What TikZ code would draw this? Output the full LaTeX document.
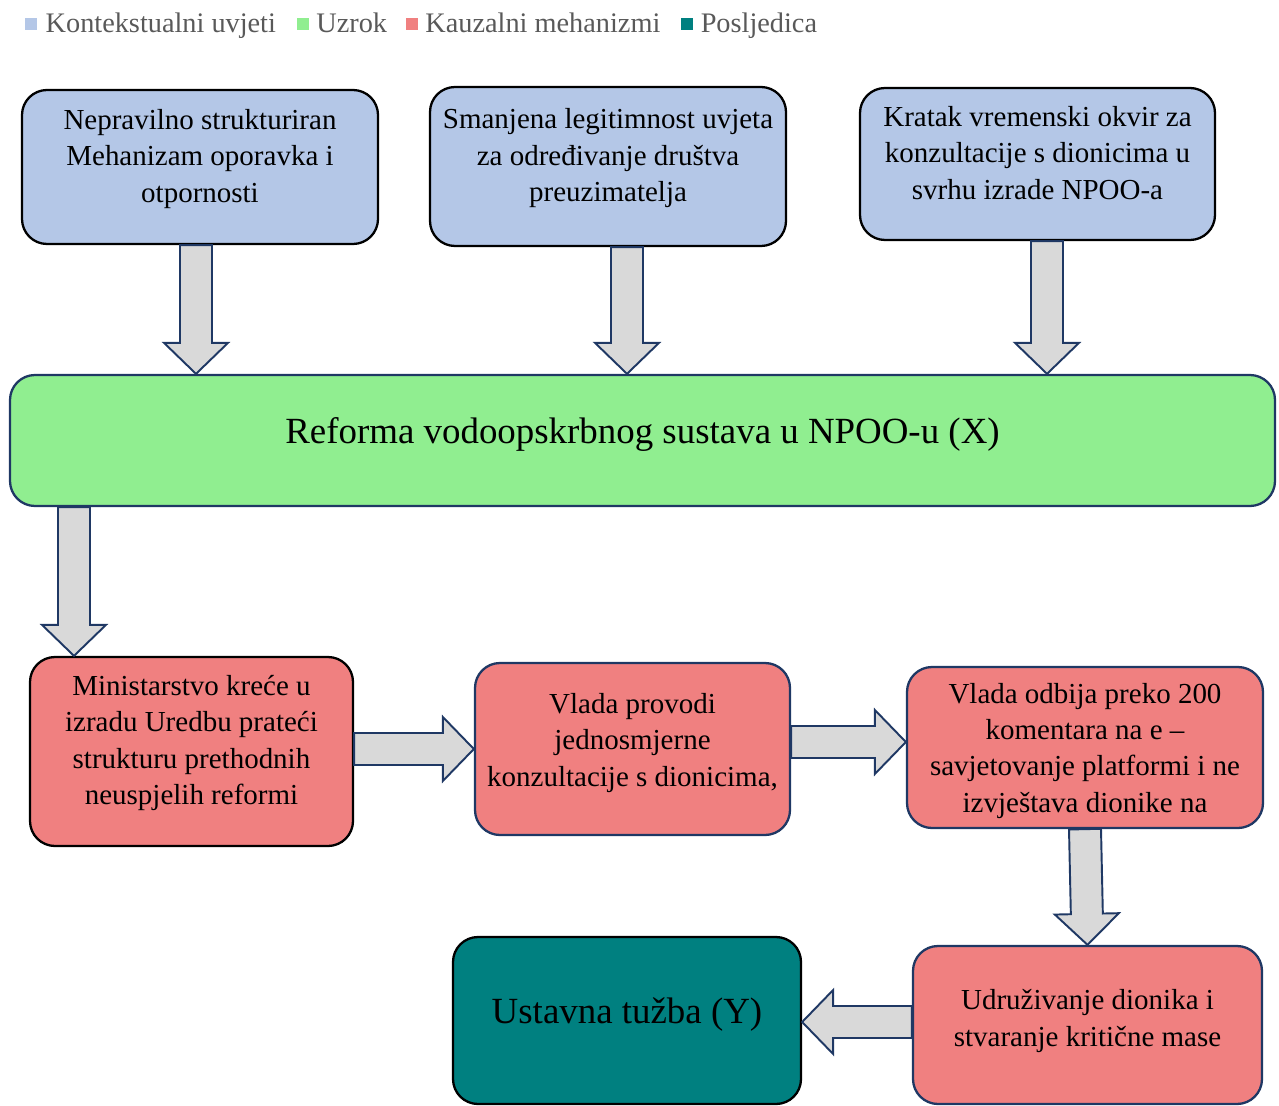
\documentclass[tikz,border=0pt]{standalone}
\usepackage{fontspec}
\setmainfont{Liberation Serif}
\usepackage{xcolor}
\usepackage{tikz}
\usetikzlibrary{positioning,calc}
\definecolor{contextbg}{RGB}{180,199,231}
\definecolor{causebg}{RGB}{144,238,144}
\definecolor{mechbg}{RGB}{240,128,128}
\definecolor{outcomebg}{RGB}{0,128,128}
\definecolor{arrowbg}{RGB}{217,217,217}
\definecolor{navyline}{RGB}{31,56,100}
\definecolor{legendtext}{RGB}{89,89,89}

% block arrow from #1 (tail) to #2 (tip)
\newcommand{\blockarrow}[2]{%
  \coordinate (ah) at ($(#2)!0.62cm!(#1)$);
  \draw[fatarrow] ($(#1)!0.32cm!90:(#2)$) -- ($(ah)!0.32cm!90:(#2)$)
    -- ($(ah)!0.64cm!90:(#2)$) -- (#2) -- ($(ah)!0.64cm!-90:(#2)$)
    -- ($(ah)!0.32cm!-90:(#2)$) -- ($(#1)!0.32cm!-90:(#2)$) -- cycle;
}

\begin{document}
\begin{tikzpicture}[
    box/.style={rectangle, rounded corners=0.5cm, line width=1.3pt, align=center,
      inner sep=0pt, font=\fontsize{16.5}{20.7}\selectfont},
    ctxbox/.style={box, fill=contextbg, draw=black},
    causebox/.style={box, fill=causebg, draw=navyline, font=\fontsize{21}{25}\selectfont},
    mechbox/.style={box, fill=mechbg, draw=navyline},
    outbox/.style={box, fill=outcomebg, draw=black, font=\fontsize{21}{25}\selectfont},
    fatarrow/.style={fill=arrowbg, draw=navyline, line width=1.1pt, line join=miter},
    legsq/.style={rectangle, minimum size=0.24cm, inner sep=0pt},
    legtxt/.style={text=legendtext, inner sep=0pt, text height=0.40cm, text depth=0.06cm,
      font=\fontsize{16.1}{18}\selectfont}
  ]
    \useasboundingbox (0,0) rectangle (25.58,-22.12);

    % Legend
    \node[legsq, fill=contextbg] (sqctx) at (0.62,-0.48) {};
    \node[legtxt, right=0.16cm of sqctx] (lgctx) {Kontekstualni uvjeti};
    \node[legsq, fill=causebg, right=0.4cm of lgctx] (sqcause) {};
    \node[legtxt, right=0.14cm of sqcause] (lgcause) {Uzrok};
    \node[legsq, fill=mechbg, right=0.36cm of lgcause] (sqmech) {};
    \node[legtxt, right=0.14cm of sqmech] (lgmech) {Kauzalni mehanizmi};
    \node[legsq, fill=outcomebg, right=0.4cm of lgmech] (sqout) {};
    \node[legtxt, right=0.14cm of sqout] (lgout) {Posljedica};

    % Contextual conditions
    \node[ctxbox, minimum width=7.12cm, minimum height=3.08cm, text depth=0.45cm] (b1) at (4.00,-3.34)
      {Nepravilno strukturiran\\Mehanizam oporavka i\\otpornosti};
    \node[ctxbox, minimum width=7.12cm, minimum height=3.18cm, text depth=0.45cm] (b2) at (12.16,-3.33)
      {Smanjena legitimnost uvjeta\\za određivanje društva\\preuzimatelja};
    \node[ctxbox, minimum width=7.10cm, minimum height=3.04cm, text depth=0.45cm] (b3) at (20.75,-3.28)
      {Kratak vremenski okvir za\\konzultacije s dionicima u\\svrhu izrade NPOO-a};

    % Cause
    \node[causebox, minimum width=25.30cm, minimum height=2.62cm, text depth=0.40cm] (reform) at (12.85,-8.81)
      {Reforma vodoopskrbnog sustava u NPOO-u (X)};

    % Causal mechanisms
    \node[mechbox, draw=black, minimum width=6.46cm, minimum height=3.78cm, text depth=0.46cm] (r1) at (3.83,-15.03)
      {Ministarstvo kreće u\\izradu Uredbu prateći\\strukturu prethodnih\\neuspjelih reformi};
    \node[mechbox, minimum width=6.30cm, minimum height=3.44cm, text depth=0.37cm] (r2) at (12.65,-14.98)
      {Vlada provodi\\jednosmjerne\\konzultacije s dionicima,};
    \node[mechbox, minimum width=7.12cm, minimum height=3.22cm, text depth=0cm] (r3) at (21.70,-14.95)
      {Vlada odbija preko 200\\komentara na e --\\savjetovanje platformi i ne\\izvještava dionike na};
    \node[mechbox, minimum width=6.98cm, minimum height=3.16cm, text depth=0.29cm] (r4) at (21.75,-20.50)
      {Udruživanje dionika i\\stvaranje kritične mase};

    % Outcome
    \node[outbox, minimum width=6.96cm, minimum height=3.34cm, text depth=0.40cm] (y) at (12.54,-20.41)
      {Ustavna tužba (Y)};

    % Arrows
    \coordinate (a1s) at ($(b1.south)+(-0.08,0)$);
    \coordinate (a1e) at (a1s |- reform.north);
    \coordinate (a2s) at ($(b2.south)+(0.38,0)$);
    \coordinate (a2e) at (a2s |- reform.north);
    \coordinate (a3s) at ($(b3.south)+(0.19,0)$);
    \coordinate (a3e) at (a3s |- reform.north);
    \coordinate (a4s) at (1.48,0 |- reform.south);
    \coordinate (a4e) at (a4s |- r1.north);
    \coordinate (a5s) at ($(r1.east)+(0,0.05)$);
    \coordinate (a5e) at (a5s -| r2.west);
    \coordinate (a6s) at ($(r2.east)+(0,0.14)$);
    \coordinate (a6e) at (a6s -| r3.west);
    \coordinate (a8s) at ($(r4.west)+(0,0.06)$);
    \coordinate (a8e) at (a8s -| y.east);

    \blockarrow{a1s}{a1e}
    \blockarrow{a2s}{a2e}
    \blockarrow{a3s}{a3e}
    \blockarrow{a4s}{a4e}
    \blockarrow{a5s}{a5e}
    \blockarrow{a6s}{a6e}
    \blockarrow{r3.south}{r4.north}
    \blockarrow{a8s}{a8e}
\end{tikzpicture}
\end{document}
